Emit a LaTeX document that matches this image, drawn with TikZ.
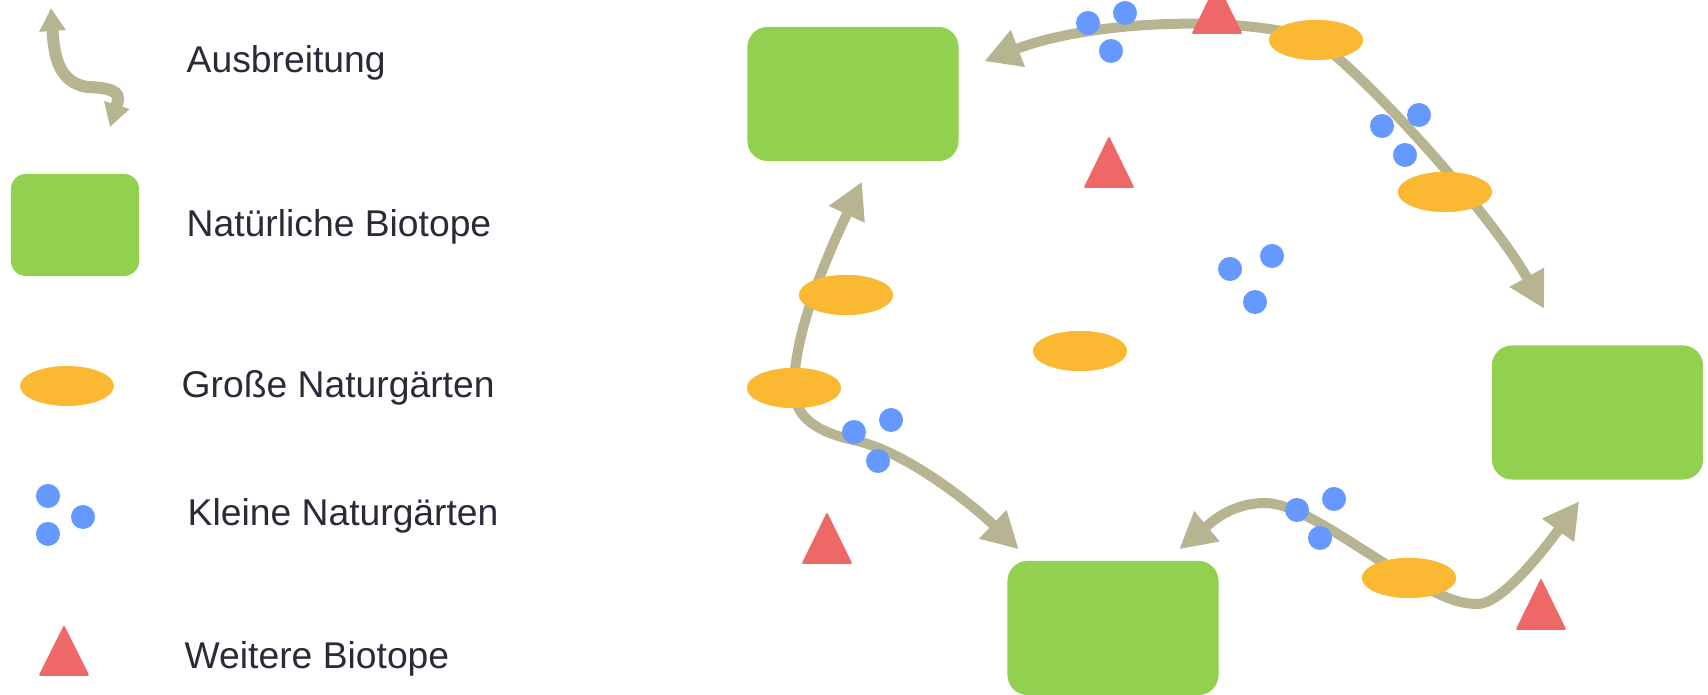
\documentclass[tikz,border=0pt]{standalone}
\usepackage{fontspec}
\setmainfont{Liberation Sans}
\usepackage{xcolor}
\usepackage{tikz}
\usetikzlibrary{arrows.meta,shapes.geometric}

\definecolor{biogreen}{HTML}{92D050}
\definecolor{gardenorange}{HTML}{FBB933}
\definecolor{gardenblue}{HTML}{6699FF}
\definecolor{biored}{HTML}{EE6868}
\definecolor{spreadgray}{HTML}{B7B491}
\definecolor{labelgray}{HTML}{2B2B38}

\begin{document}
\begin{tikzpicture}[x=0.01cm, y=-0.01cm,
  every node/.style={font=\fontsize{10.6}{12}\selectfont, text=labelgray},
  natbio/.style={fill=biogreen, rounded corners=0.2cm, minimum width=2.11cm, minimum height=1.34cm, inner sep=0},
  gross/.style={ellipse, fill=gardenorange, minimum width=0.94cm, minimum height=0.40cm, inner sep=0},
  klein/.style={circle, fill=gardenblue, minimum size=0.24cm, inner sep=0},
  weitere/.style={fill=biored, rounded corners=0.02cm},
  spread/.style={line width=0.10cm, spreadgray, {Triangle[length=0.36cm,width=0.37cm]}-{Triangle[length=0.36cm,width=0.37cm]}},
  lgspread/.style={line width=0.12cm, spreadgray, {Triangle[length=0.23cm,width=0.25cm]}-{Triangle[length=0.23cm,width=0.25cm]}},
  legendtext/.style={anchor=base west, inner sep=0}]
   \useasboundingbox (0,0) rectangle (1708,695);
   \clip (0,0) rectangle (1708,695);

   % Legend
   \coordinate (lgtop) at (51,8);
   \coordinate (lgmid) at (87,87);
   \coordinate (lgbot) at (110,127);
   \draw[lgspread] (lgtop) .. controls +(3,45) and +(-30,-5) .. (lgmid) .. controls +(33,1) and +(10,-32) .. (lgbot);
   \node[natbio, minimum width=1.28cm, minimum height=1.02cm, rounded corners=0.15cm] (lgbio) at (75,225) {};
   \node[gross] (lggross) at (67,386) {};
   \node[klein] (lgk1) at (48,496) {};
   \node[klein] (lgk2) at (83,517) {};
   \node[klein] (lgk3) at (48,534) {};
   \fill[weitere] (64,676) ++(-25.5,0) -- ++(25.5,-51) -- ++(25.5,51) -- cycle;

   \node[legendtext] (txspread) at (186,73) {Ausbreitung};
   \node[legendtext] (txnat) at (186,237) {Natürliche Biotope};
   \node[legendtext] (txgross) at (181,398) {Große Naturgärten};
   \node[legendtext] (txklein) at (187,526) {Kleine Naturgärten};
   \node[legendtext] (txweit) at (184,669) {Weitere Biotope};

   % Natural biotopes
   \node[natbio] (tl) at (853,94) {};
   \node[natbio] (rr) at (1597.5,412.5) {};
   \node[natbio] (bb) at (1113,628) {};

   % Large gardens (placed before the paths that run through them)
   \node[gross] (g1) at (1316,40) {};
   \node[gross] (g2) at (1445,192) {};
   \node[gross] (g3) at (794,388) {};
   \node[gross] (g4) at (846,295) {};
   \node[gross] (g5) at (1080,351) {};
   \node[gross] (g6) at (1409,578) {};
   \coordinate (bend) at (853,440);
   \coordinate (hump) at (1265,503);
   \coordinate (dip) at (1478,604);

   % Spreading paths
   \draw[spread] ([shift={(25,35)}]tl.north east) .. controls +(110,-42) and +(-70,-25) .. (g1.center)
      .. controls +(60,45) and +(-50,-90) .. ([shift={(53,-36)}]rr.north west);
   \draw[spread] ([shift={(9,20)}]tl.south) .. controls +(-30,64) and +(0,-60) .. (g3.center)
      .. controls +(0,30) and +(-35,-8) .. (bend) .. controls +(50,10) and +(-50,-48) .. ([shift={(12,-11)}]bb.north west);
   \draw[spread] ([shift={(-40,-11)}]bb.north east) .. controls +(30,-25) and +(-35,0) .. (hump)
      .. controls +(35,0) and +(-50,-28) .. (g6.center) .. controls +(30,17) and +(-22,0) .. (dip)
      .. controls +(22,0) and +(-40,55) .. ([shift={(88,21)}]rr.south west);

   % Gardens on top of the paths
   \foreach \n in {g1,g2,g3,g4,g5,g6}
      \node[gross] at (\n) {};
   \foreach \n/\x/\y in {k1/1088/23, k2/1125/13, k3/1111/51, k4/1382/126, k5/1419/115, k6/1405/155,
      k7/1230/269, k8/1272/256, k9/1255/302, k10/854/432, k11/891/420, k12/878/461,
      k13/1297/510, k14/1334/499, k15/1320/538}
      \node[klein] (\n) at (\x,\y) {};

   % Further biotopes
   \foreach \x/\y in {1217/34, 1109/188, 827/564, 1541/630}
      \fill[weitere] (\x,\y) ++(-25.5,0) -- ++(25.5,-52) -- ++(25.5,52) -- cycle;
\end{tikzpicture}
\end{document}
